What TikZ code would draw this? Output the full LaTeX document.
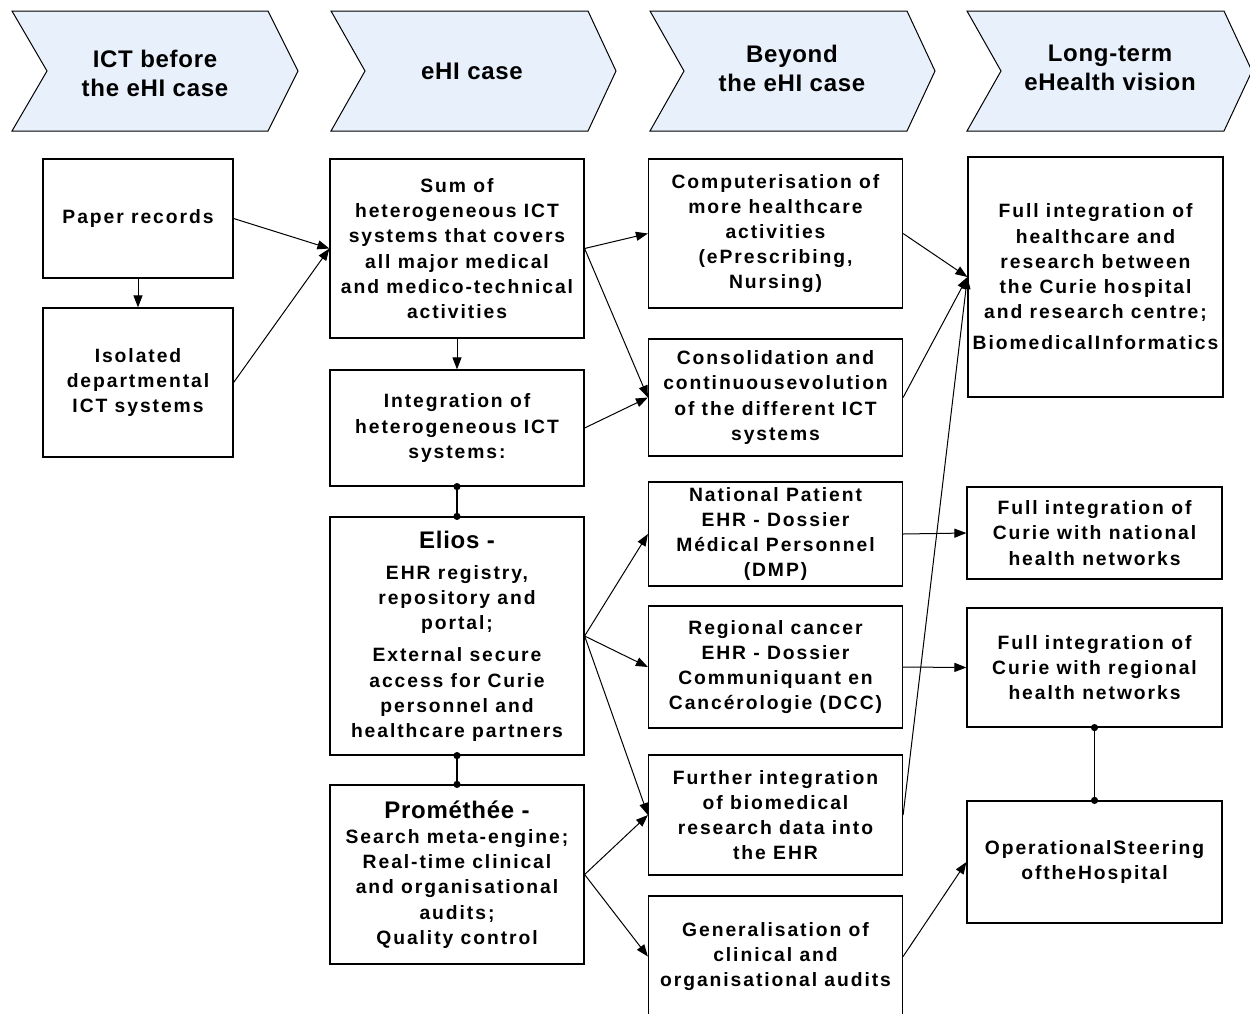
\documentclass[tikz,border=0pt]{standalone}
\usepackage{fontspec}
\newfontfamily\bodyfam[LetterSpace=10]{Liberation Sans}
\newfontfamily\headfam[LetterSpace=3]{Liberation Sans}
\usetikzlibrary{arrows.meta}
\definecolor{chev}{HTML}{E8F0FB}
\newcommand\bodyf{\bodyfam\bfseries\fontsize{19.3}{25.2}\selectfont}
\newcommand\headf{\headfam\bfseries\fontsize{24}{29}\selectfont}
\newcommand\titlef{\headfam\bfseries\fontsize{24}{29}\selectfont}
\begin{document}
\begin{tikzpicture}[x=1pt,y=-1pt,
  box/.style={draw, line width=1.2pt, align=center, inner sep=0pt, font=\bodyf},
  chevron/.style={draw, line width=1pt, fill=chev, line join=miter},
  head/.style={font=\headf, align=center, inner sep=0pt},
  arr/.style={-{Triangle[length=12pt,width=9pt]}, line width=1pt},
  link/.style={line width=1.6pt}
]
\clip (0,0) rectangle (1250,1013);
\fill[white] (0,0) rectangle (1250,1013);

% chevrons
\draw[chevron] (12,11) -- (268,11) -- (298,71) -- (268,131) -- (12,131) -- (47,71) -- cycle;
\draw[chevron] (331,11) -- (588,11) -- (616,71) -- (588,131) -- (331,131) -- (365,71) -- cycle;
\draw[chevron] (650,11) -- (907,11) -- (935,71) -- (907,131) -- (650,131) -- (684,71) -- cycle;
\draw[chevron] (967,11) -- (1224,11) -- (1252,71) -- (1224,131) -- (967,131) -- (1001,71) -- cycle;
\node[head] (h1) at (155,73) {ICT before\\the eHI case};
\node[head] (h2) at (472,71) {eHI case};
\node[head] (h3) at (792,68) {Beyond\\the eHI case};
\node[head] (h4) at (1110,68) {Long-term\\eHealth vision};

% column 1
\node[box, minimum width=190, minimum height=119] (paper) at (138,218.5) {Paper records};
\node[box, minimum width=190, minimum height=149] (isolated) at (138,382.5) {Isolated\\departmental\\ICT systems};

% column 2
\node[box, minimum width=254, minimum height=179] (sum) at (457,248.5)
  {Sum of\\heterogeneous ICT\\systems that covers\\all major medical\\and medico-technical\\activities};
\node[box, minimum width=254, minimum height=116] (integ) at (457,428)
  {Integration of\\heterogeneous ICT\\systems:};
\node[box, minimum width=254, minimum height=238] (elios) at (457,636)
  {{\titlef Elios -}\\[6pt]EHR registry,\\repository and\\portal;\\[7pt]External secure\\access for Curie\\personnel and\\healthcare partners};
\node[box, minimum width=254, minimum height=179] (prom) at (457,874.5)
  {{\titlef Prométhée -}\\Search meta-engine;\\Real-time clinical\\and organisational\\audits;\\Quality control};

% column 3
\node[box, minimum width=254, minimum height=149] (comp) at (775.5,233.5)
  {Computerisation of\\more healthcare\\activities\\(ePrescribing,\\Nursing)};
\node[box, minimum width=254, minimum height=117] (consol) at (775.5,397.5)
  {Consolidation and\\continuousevolution\\of the different ICT\\systems};
\node[box, minimum width=254, minimum height=104] (natl) at (775.5,534)
  {National Patient\\EHR - Dossier\\Médical Personnel\\(DMP)};
\node[box, minimum width=254, minimum height=122] (regl) at (775.5,667)
  {Regional cancer\\EHR - Dossier\\Communiquant en\\Cancérologie (DCC)};
\node[box, minimum width=254, minimum height=120] (further) at (775.5,815)
  {Further integration\\of biomedical\\research data into\\the EHR};
\node[box, minimum width=254, minimum height=121] (general) at (775.5,956.5)
  {Generalisation of\\clinical and\\organisational audits};

% column 4
\node[box, minimum width=255, minimum height=240] (full) at (1095.5,277)
  {Full integration of\\healthcare and\\research between\\the Curie hospital\\and research centre;\\[6pt]BiomedicalInformatics};
\node[box, minimum width=255, minimum height=92] (curnat) at (1094.5,533)
  {Full integration of\\Curie with national\\health networks};
\node[box, minimum width=255, minimum height=119] (curreg) at (1094.5,667.5)
  {Full integration of\\Curie with regional\\health networks};
\node[box, minimum width=255, minimum height=122] (oper) at (1094.5,862)
  {OperationalSteering\\oftheHospital};

% connectors
\draw[arr] (paper.east) -- (sum.west);
\draw[arr] (isolated.east) -- (sum.west);
\draw[arr] (paper.south) -- (isolated.north);
\draw[arr] (sum.south) -- (integ.north);
\draw[link] (integ.south) -- (elios.north);
\fill (integ.south) circle (3.6pt) (elios.north) circle (3.6pt);
\draw[link] (elios.south) -- (prom.north);
\fill (elios.south) circle (3.6pt) (prom.north) circle (3.6pt);
\draw[arr] (sum.east) -- (comp.west);
\draw[arr] (sum.east) -- (consol.west);
\draw[arr] (integ.east) -- (consol.west);
\draw[arr] (comp.east) -- (full.west);
\draw[arr] (consol.east) -- (full.west);
\draw[arr] (further.east) -- (full.west);
\draw[arr] (elios.east) -- (natl.west);
\draw[arr] (elios.east) -- (regl.west);
\draw[arr] (elios.east) -- (further.west);
\draw[arr] (prom.east) -- (further.west);
\draw[arr] (prom.east) -- (general.west);
\draw[arr] (natl.east) -- (curnat.west);
\draw[arr] (regl.east) -- (curreg.west);
\draw[link] (curreg.south) -- (oper.north);
\fill (curreg.south) circle (3.6pt) (oper.north) circle (3.6pt);
\draw[arr] (general.east) -- (oper.west);
\end{tikzpicture}
\end{document}
